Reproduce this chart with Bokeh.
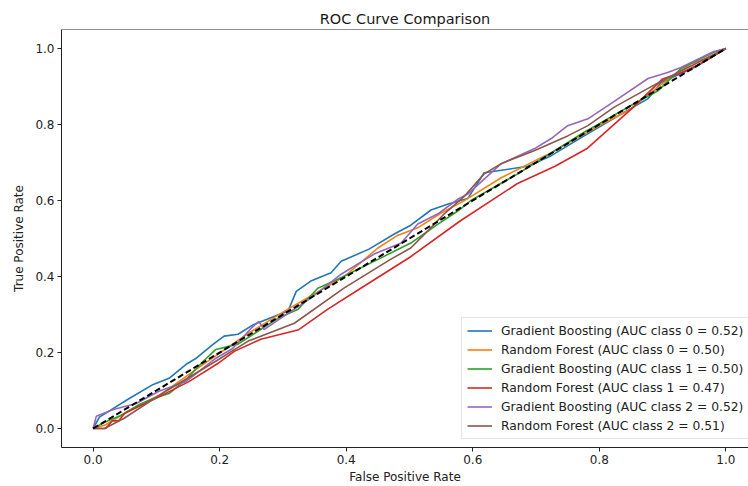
from bokeh.plotting import figure
from bokeh.models import Range1d, Legend, LegendItem, Span, NumeralTickFormatter
from bokeh.embed import file_html
from bokeh.resources import INLINE

# ---------------- data ----------------
gb0_fpr = [0, 0.01, 0.032, 0.057, 0.095, 0.12, 0.147, 0.163, 0.19, 0.207, 0.229, 0.254, 0.308, 0.321,
           0.344, 0.376, 0.392, 0.436, 0.476, 0.502, 0.534, 0.56, 0.592, 0.618, 0.687, 0.724, 0.776,
           0.83, 0.877, 0.897, 0.95, 1.0]
gb0_tpr = [0, 0.03, 0.053, 0.079, 0.116, 0.132, 0.169, 0.185, 0.222, 0.243, 0.248, 0.274, 0.309, 0.361,
           0.388, 0.41, 0.44, 0.472, 0.512, 0.535, 0.575, 0.59, 0.605, 0.673, 0.69, 0.718, 0.77,
           0.823, 0.868, 0.91, 0.95, 1.0]

rf0_fpr = [0, 0.02, 0.055, 0.107, 0.17, 0.245, 0.308, 0.397, 0.45, 0.48, 0.513, 0.55, 0.586, 0.645,
           0.724, 0.776, 0.803, 0.85, 0.866, 0.902, 0.945, 0.97, 1.0]
rf0_tpr = [0, 0.01, 0.045, 0.09, 0.164, 0.25, 0.314, 0.4, 0.475, 0.507, 0.528, 0.567, 0.599, 0.66,
           0.726, 0.775, 0.8, 0.84, 0.865, 0.91, 0.96, 0.975, 1.0]

gb1_fpr = [0, 0.02, 0.041, 0.073, 0.095, 0.12, 0.147, 0.174, 0.194, 0.229, 0.292, 0.324, 0.355, 0.381,
           0.455, 0.502, 0.545, 0.577, 0.597, 0.671, 0.724, 0.776, 0.798, 0.85, 0.893, 0.929, 0.981, 1.0]
gb1_tpr = [0, 0.018, 0.032, 0.063, 0.079, 0.092, 0.129, 0.177, 0.208, 0.222, 0.29, 0.314, 0.369, 0.388,
           0.449, 0.488, 0.538, 0.573, 0.6, 0.67, 0.725, 0.78, 0.8, 0.85, 0.889, 0.947, 0.99, 1.0]

rf1_fpr = [0, 0.02, 0.03, 0.04, 0.05, 0.1, 0.152, 0.197, 0.223, 0.265, 0.325, 0.371, 0.423, 0.5, 0.58,
           0.67, 0.73, 0.78, 0.85, 0.9, 0.93, 0.96, 1.0]
rf1_tpr = [0, 0, 0.02, 0.02, 0.04, 0.08, 0.124, 0.171, 0.203, 0.235, 0.26, 0.314, 0.369, 0.45, 0.546,
           0.644, 0.69, 0.736, 0.84, 0.92, 0.937, 0.96, 1.0]

gb2_fpr = [0, 0.005, 0.032, 0.068, 0.104, 0.147, 0.194, 0.22, 0.25, 0.262, 0.27, 0.308, 0.344, 0.392,
           0.444, 0.487, 0.513, 0.545, 0.577, 0.592, 0.645, 0.697, 0.724, 0.75, 0.782, 0.823, 0.877,
           0.908, 0.929, 0.981, 1.0]
gb2_tpr = [0, 0.032, 0.05, 0.066, 0.098, 0.124, 0.185, 0.21, 0.264, 0.282, 0.26, 0.303, 0.343, 0.406,
           0.459, 0.488, 0.538, 0.565, 0.604, 0.617, 0.697, 0.736, 0.763, 0.797, 0.815, 0.86, 0.921,
           0.937, 0.95, 0.992, 1.0]

rf2_fpr = [0, 0.018, 0.049, 0.107, 0.186, 0.245, 0.318, 0.397, 0.47, 0.502, 0.529, 0.555, 0.586, 0.618,
           0.645, 0.697, 0.75, 0.782, 0.823, 0.877, 0.924, 0.956, 1.0]
rf2_tpr = [0, 0.0, 0.027, 0.09, 0.169, 0.23, 0.277, 0.37, 0.445, 0.475, 0.52, 0.565, 0.61, 0.67,
           0.697, 0.731, 0.77, 0.797, 0.845, 0.895, 0.937, 0.963, 1.0]

chance = [0, 1]

labels = [
    "Gradient Boosting (AUC class 0 = 0.52)",
    "Random Forest (AUC class 0 = 0.50)",
    "Gradient Boosting (AUC class 1 = 0.50)",
    "Random Forest (AUC class 1 = 0.47)",
    "Gradient Boosting (AUC class 2 = 0.52)",
    "Random Forest (AUC class 2 = 0.51)",
]
colors = ["#1f77b4", "#ff7f0e", "#2ca02c", "#d62728", "#9467bd", "#8c564b"]
xs = [gb0_fpr, rf0_fpr, gb1_fpr, rf1_fpr, gb2_fpr, rf2_fpr]
ys = [gb0_tpr, rf0_tpr, gb1_tpr, rf1_tpr, gb2_tpr, rf2_tpr]

ticks = [0.0, 0.2, 0.4, 0.6, 0.8, 1.0]
X_START, X_END = -0.05, 1.0358
Y_START, Y_END = -0.05, 1.05

FONT = "DejaVu Sans"

p = figure(width=748, height=486, output_backend="svg", toolbar_location=None,
           x_range=Range1d(X_START, X_END), y_range=Range1d(Y_START, Y_END),
           title="ROC Curve Comparison")
p.min_border_left = 61
p.min_border_right = 0
p.min_border_top = 29
p.min_border_bottom = 39
p.background_fill_color = "white"
p.border_fill_color = "white"
p.outline_line_color = None
p.xgrid.visible = False
p.ygrid.visible = False

p.title.align = "center"
p.title.text_font = FONT
p.title.text_font_size = "14.5px"
p.title.text_font_style = "normal"
p.title.text_color = "#1a1a1a"
p.title.standoff = 5
p.title.offset = 4

for ax in (p.xaxis[0], p.yaxis[0]):
    ax.ticker = ticks
    ax.formatter = NumeralTickFormatter(format="0.0")
    ax.minor_tick_line_color = None
    ax.major_tick_in = 0
    ax.major_tick_out = 4
    ax.major_label_standoff = 3
    ax.major_label_text_font = FONT
    ax.major_label_text_font_size = "12px"
    ax.major_label_text_color = "#222222"
    ax.axis_label_text_font = FONT
    ax.axis_label_text_font_size = "12px"
    ax.axis_label_text_font_style = "normal"
    ax.axis_label_text_color = "#222222"
    ax.axis_line_color = "#222222"
    ax.major_tick_line_color = "#222222"
    ax.axis_label_standoff = 3

p.xaxis.axis_label = "False Positive Rate"
p.yaxis.axis_label = "True Positive Rate"
p.yaxis.axis_label_standoff = 6

# top spine
p.add_layout(Span(location=Y_END, dimension="width", line_color="#222222", line_width=1))

items = []
for x, y, c, lab in zip(xs, ys, colors, labels):
    r = p.line(x, y, line_color=c, line_width=1.6)
    items.append(LegendItem(label=lab, renderers=[r]))

p.line(chance, chance, line_color="black", line_width=2, line_dash="6 3")

legend = Legend(items=items, location=(400, 8))
legend.label_text_font = FONT
legend.label_text_font_size = "12.3px"
legend.label_text_color = "#222222"
legend.glyph_width = 25
legend.glyph_height = 15
legend.label_height = 15
legend.label_standoff = 9
legend.spacing = 4
legend.padding = 5
legend.margin = 0
legend.border_line_color = "#cccccc"
legend.border_line_width = 1
legend.background_fill_alpha = 0.8
p.add_layout(legend, "center")

open("out.html", "w").write(file_html(p, INLINE))
